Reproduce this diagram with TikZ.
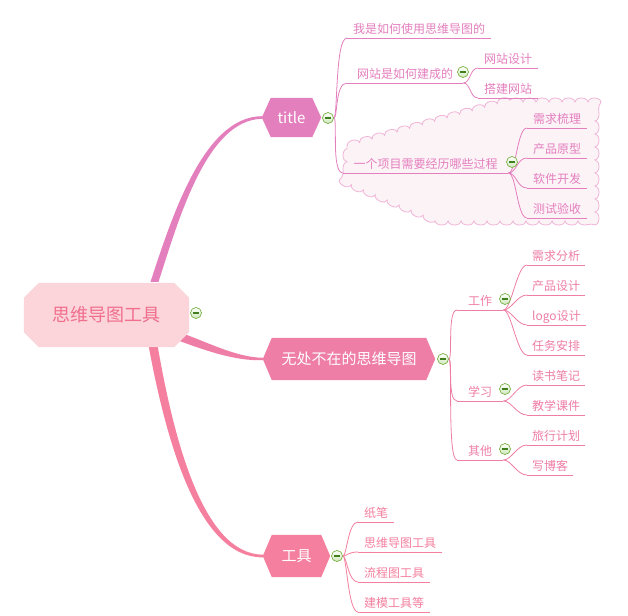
\documentclass[tikz,border=0pt]{standalone}
\usepackage{fontspec}
\setmainfont{Noto Sans CJK SC}
\usetikzlibrary{backgrounds,decorations.pathmorphing,calc}
\definecolor{cT}{HTML}{E47FBE}
\definecolor{cW}{HTML}{EE7EA6}
\definecolor{cG}{HTML}{F47F9E}
\definecolor{cenFill}{HTML}{FBD5D9}
\definecolor{cenText}{HTML}{F06E8E}
\definecolor{cloudFill}{HTML}{FCF3F7}
\definecolor{cloudLine}{HTML}{F0B4D6}
\definecolor{icG}{HTML}{78B044}
\definecolor{icL}{HTML}{CFE8B8}
\definecolor{icD}{HTML}{3F7F1F}
\begin{document}
\begin{tikzpicture}[x=1pt,y=-1pt,
  leaf/.style={anchor=south west, inner xsep=6pt, inner ysep=3pt, text height=10pt, text depth=1.5pt, font=\fontsize{12}{14}\selectfont, text=#1},
  tog/.style={circle, minimum size=11pt, inner sep=0pt, draw=icG, line width=0.7pt, top color=white, bottom color=icL,
    path picture={\draw[icD,line width=1.1pt] ($(path picture bounding box.center)+(-3pt,0pt)$) -- ($(path picture bounding box.center)+(3pt,0pt)$);}},
  mainlbl/.style={text=white, inner sep=0pt, font=\fontsize{15}{18}\selectfont},
  thin/.style={line width=0.8pt}
]
\useasboundingbox (0,0) rectangle (628,615);

% main nodes
\node[inner sep=0pt, minimum width=165pt, minimum height=64pt, text=cenText, font=\fontsize{18}{22}\selectfont] (cen) at (106.5,315) {思维导图工具};
\node[mainlbl, minimum width=59pt, minimum height=39pt] (title) at (291.5,117.5) {title};
\node[mainlbl, minimum width=172pt, minimum height=42pt] (wuchu) at (349,359) {无处不在的思维导图};
\node[mainlbl, minimum width=67pt, minimum height=42pt] (gongju) at (296.5,556) {工具};

% title branch leaves
\node[leaf=cT] (t1) at (347,38) {我是如何使用思维导图的};
\node[leaf=cT, minimum width=116pt] (t2) at (347,83) {网站是如何建成的};
\node[leaf=cT] (t21) at (478,68) {网站设计};
\node[leaf=cT] (t22) at (478,98) {搭建网站};
\node[leaf=cT, minimum width=165pt] (t3) at (343,173) {一个项目需要经历哪些过程};
\node[leaf=cT] (t31) at (527,128) {需求梳理};
\node[leaf=cT] (t32) at (527,158) {产品原型};
\node[leaf=cT] (t33) at (527,188) {软件开发};
\node[leaf=cT] (t34) at (527,218) {测试验收};

% wuchu branch leaves
\node[leaf=cW, minimum width=46pt] (w1) at (457,310) {工作};
\node[leaf=cW, minimum width=46pt] (w2) at (457,401) {学习};
\node[leaf=cW, minimum width=46pt] (w3) at (457,460) {其他};
\node[leaf=cW, inner xsep=5pt] (w11) at (527,265) {需求分析};
\node[leaf=cW, inner xsep=5pt] (w12) at (527,295) {产品设计};
\node[leaf=cW, inner xsep=5pt] (w13) at (527,325) {logo设计};
\node[leaf=cW, inner xsep=5pt] (w14) at (527,355) {任务安排};
\node[leaf=cW, inner xsep=5pt] (w21) at (527,385) {读书笔记};
\node[leaf=cW, inner xsep=5pt] (w22) at (527,415) {教学课件};
\node[leaf=cW, inner xsep=5pt] (w31) at (527,445) {旅行计划};
\node[leaf=cW, inner xsep=5pt] (w32) at (527,475) {写博客};

% gongju branch leaves
\node[leaf=cG] (g1) at (358,522) {纸笔};
\node[leaf=cG] (g2) at (358,552) {思维导图工具};
\node[leaf=cG] (g3) at (358,582) {流程图工具};
\node[leaf=cG] (g4) at (358,612) {建模工具等};

% toggles
\node[tog] (ic0) at (196,313) {};
\node[tog] (ic1) at (328,118) {};
\node[tog] (ic2) at (443,359) {};
\node[tog] (ic3) at (337,556) {};
\node[tog] (ic12) at (463,72) {};
\node[tog] (ic13) at (512,162) {};
\node[tog] (ic21) at (505,299) {};
\node[tog] (ic22) at (505,389) {};
\node[tog] (ic23) at (505,449) {};

\begin{scope}[on background layer]
  \fill[white] (0,0) rectangle (628,615);
  % cloud
  \path[fill=cloudFill, draw=cloudLine, line width=0.8pt, decorate, decoration={bumps, segment length=26pt, amplitude=4pt}]
    (347,146) -- (503,102) -- (595,102) -- (595,221) -- (437,221) -- (347,183) -- cycle;

  % main branches (tapered)
  \fill[cT] ($(cen.north)+(44,-1)$) .. controls (171,220) and (203,116.5) .. ($(title.west)+(0,-1.3)$)
     -- ($(title.west)+(0,1.3)$) .. controls (206,120) and (178,222) .. ($(cen.north)+(52,-1)$) -- cycle;
  \fill[cW] ($(cen.south east)+(-10,-15)$) .. controls (210,343) and (235,357) .. ($(wuchu.west)+(0,-1.2)$)
     -- ($(wuchu.west)+(0,1.2)$) .. controls (235,361) and (207,351) .. ($(cen.south east)+(-12,-7)$) -- cycle;
  \fill[cG] ($(cen.south)+(42,-2)$) .. controls (166,440) and (198,558) .. ($(gongju.west)+(0,1.3)$)
     -- ($(gongju.west)+(0,-1.3)$) .. controls (203,554) and (174,440) .. ($(cen.south)+(51,-2)$) -- cycle;

  % shapes
  \fill[cenFill] ($(cen.north west)+(15,0)$) -- ($(cen.north east)+(-15,0)$) -- ($(cen.north east)+(0,15)$)
    -- ($(cen.south east)+(0,-15)$) -- ($(cen.south east)+(-15,0)$) -- ($(cen.south west)+(15,0)$)
    -- ($(cen.south west)+(0,-15)$) -- ($(cen.north west)+(0,15)$) -- cycle;
  \fill[cT] (title.west) -- ($(title.north west)+(9,0)$) -- ($(title.north east)+(-9,0)$) -- (title.east)
    -- ($(title.south east)+(-9,0)$) -- ($(title.south west)+(9,0)$) -- cycle;
  \fill[cW] (wuchu.west) -- ($(wuchu.north west)+(9,0)$) -- ($(wuchu.north east)+(-9,0)$) -- (wuchu.east)
    -- ($(wuchu.south east)+(-9,0)$) -- ($(wuchu.south west)+(9,0)$) -- cycle;
  \fill[cG] (gongju.west) -- ($(gongju.north west)+(9,0)$) -- ($(gongju.north east)+(-9,0)$) -- (gongju.east)
    -- ($(gongju.south east)+(-9,0)$) -- ($(gongju.south west)+(9,0)$) -- cycle;

  % underlines
  \foreach \n in {t1,t2,t21,t22,t3,t31,t32,t33,t34} \draw[cT,thin] (\n.south west) -- (\n.south east);
  \foreach \n in {w1,w2,w3,w11,w12,w13,w14,w21,w22,w31,w32} \draw[cW,thin] (\n.south west) -- (\n.south east);
  \foreach \n in {g1,g2,g3,g4} \draw[cG,thin] (\n.south west) -- (\n.south east);

  % connectors
  \foreach \n in {t1,t2,t3} \draw[cT,thin] (ic1.east) .. controls +(4,0) and +(-12,0) .. (\n.south west);
  \foreach \n in {t21,t22} \draw[cT,thin] (t2.south east) .. controls +(7,0) and +(-8,0) .. (\n.south west);
  \foreach \n in {t31,t32,t33,t34} \draw[cT,thin] (t3.south east) .. controls +(8,0) and +(-10,0) .. (\n.south west);
  \foreach \n in {w1,w2,w3} \draw[cW,thin] (ic2.east) .. controls +(4,0) and +(-10,0) .. (\n.south west);
  \foreach \n in {w11,w12,w13,w14} \draw[cW,thin] (w1.south east) .. controls +(8,0) and +(-10,0) .. (\n.south west);
  \foreach \n in {w21,w22} \draw[cW,thin] (w2.south east) .. controls +(8,0) and +(-10,0) .. (\n.south west);
  \foreach \n in {w31,w32} \draw[cW,thin] (w3.south east) .. controls +(8,0) and +(-10,0) .. (\n.south west);
  \foreach \n in {g1,g2,g3,g4} \draw[cG,thin] (ic3.east) .. controls +(4,0) and +(-10,0) .. (\n.south west);
\end{scope}
\end{tikzpicture}
\end{document}
